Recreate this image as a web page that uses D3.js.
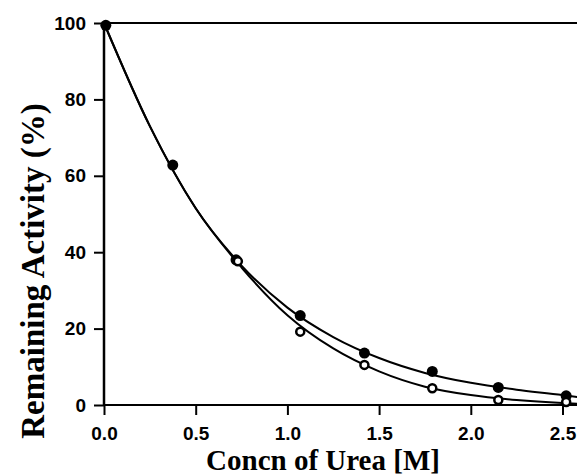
<!DOCTYPE html>
<html>
<head>
<meta charset="utf-8">
<script src="https://cdn.jsdelivr.net/npm/d3@7"></script>
<style>
  body { margin: 0; background: #fff; }
  svg { display: block; }
</style>
</head>
<body>
<div id="chart"></div>
<script>
// urea concentration (M) and remaining activity (%)
const concFilled = [0.01, 0.375, 0.72, 1.07, 1.42, 1.79, 2.15, 2.52];
const actFilled  = [99.4, 62.8, 38.0, 23.4, 13.6, 8.8, 4.6, 2.4];
const concOpen   = [0.73, 1.07, 1.42, 1.79, 2.15, 2.52];
const actOpen    = [37.6, 19.2, 10.5, 4.4, 1.3, 0.8];

// fitted curves
const fitConc     = [0, 0.25, 0.5, 0.75, 1.0, 1.25, 1.5, 1.75, 2.0, 2.25, 2.5, 2.59];
const fitFilled   = [100, 73, 51.5, 36.5, 25.5, 17.8, 12.3, 8.4, 5.8, 4.0, 2.6, 2.0];
const fitOpen     = [100, 73, 51.5, 36, 23.5, 14.8, 8.8, 4.8, 2.6, 1.3, 0.5, 0.3];

const xTicks = [0, 0.5, 1.0, 1.5, 2.0, 2.5];
const yTicks = [0, 20, 40, 60, 80, 100];

const width = 577, height = 476;

const svg = d3.select("#chart")
              .append("svg")
              .attr("width", width)
              .attr("height", height);

const x = d3.scaleLinear().domain([0, 2.5]).range([104, 562.5]);
const y = d3.scaleLinear().domain([0, 100]).range([405, 23]);

// axes
const xAxis = d3.axisBottom(x)
                .tickValues(xTicks)
                .tickFormat(d3.format(".1f"))
                .tickSize(10)
                .tickPadding(12);
const yAxis = d3.axisLeft(y)
                .tickValues(yTicks)
                .tickSize(10)
                .tickPadding(8);

const gx = svg.append("g")
   .attr("transform", `translate(0,${y(0)})`)
   .call(xAxis);
const gy = svg.append("g")
   .attr("transform", `translate(${x(0)},0)`)
   .call(yAxis);

[gx, gy].forEach(g => {
    g.select(".domain").remove();
    g.selectAll(".tick line").attr("stroke", "#000").attr("stroke-width", 2);
    g.selectAll(".tick text")
     .attr("fill", "#000")
     .style("font-family", "'Liberation Sans', Arial, sans-serif")
     .style("font-weight", "bold")
     .style("font-size", "19px");
});

// axis lines and top frame line
svg.append("line")
   .attr("x1", x(0)).attr("x2", width)
   .attr("y1", y(0)).attr("y2", y(0))
   .attr("stroke", "#000").attr("stroke-width", 2);
svg.append("line")
   .attr("x1", x(0)).attr("x2", width)
   .attr("y1", y(100)).attr("y2", y(100))
   .attr("stroke", "#000").attr("stroke-width", 2);
svg.append("line")
   .attr("x1", x(0)).attr("x2", x(0))
   .attr("y1", y(100)).attr("y2", y(0))
   .attr("stroke", "#000").attr("stroke-width", 2.5);

// fit lines
const line = d3.line()
               .x(d => x(d[0]))
               .y(d => y(d[1]))
               .curve(d3.curveMonotoneX);

svg.append("path")
   .datum(fitConc.map((c, i) => [c, fitFilled[i]]))
   .attr("d", line)
   .attr("fill", "none")
   .attr("stroke", "#000")
   .attr("stroke-width", 2);
svg.append("path")
   .datum(fitConc.map((c, i) => [c, fitOpen[i]]))
   .attr("d", line)
   .attr("fill", "none")
   .attr("stroke", "#000")
   .attr("stroke-width", 2);

// points
svg.append("g")
   .selectAll("circle")
   .data(concFilled.map((c, i) => [c, actFilled[i]]))
   .enter()
   .append("circle")
   .attr("cx", d => x(d[0]))
   .attr("cy", d => y(d[1]))
   .attr("r", 5.5)
   .style("fill", "#000");

svg.append("g")
   .selectAll("circle")
   .data(concOpen.map((c, i) => [c, actOpen[i]]))
   .enter()
   .append("circle")
   .attr("cx", d => x(d[0]))
   .attr("cy", d => y(d[1]))
   .attr("r", 4)
   .style("fill", "#fff")
   .style("stroke", "#000")
   .style("stroke-width", 2.5);

// axis titles
svg.append("text")
   .attr("x", 323)
   .attr("y", 470)
   .attr("text-anchor", "middle")
   .style("font-family", "'Liberation Serif', 'Times New Roman', serif")
   .style("font-weight", "bold")
   .style("font-size", "29px")
   .text("Concn of Urea [M]");

svg.append("text")
   .attr("transform", `translate(44,${271}) rotate(-90)`)
   .attr("text-anchor", "middle")
   .style("font-family", "'Liberation Serif', 'Times New Roman', serif")
   .style("font-weight", "bold")
   .style("font-size", "33px")
   .text("Remaining Activity (%)");
</script>
</body>
</html>
